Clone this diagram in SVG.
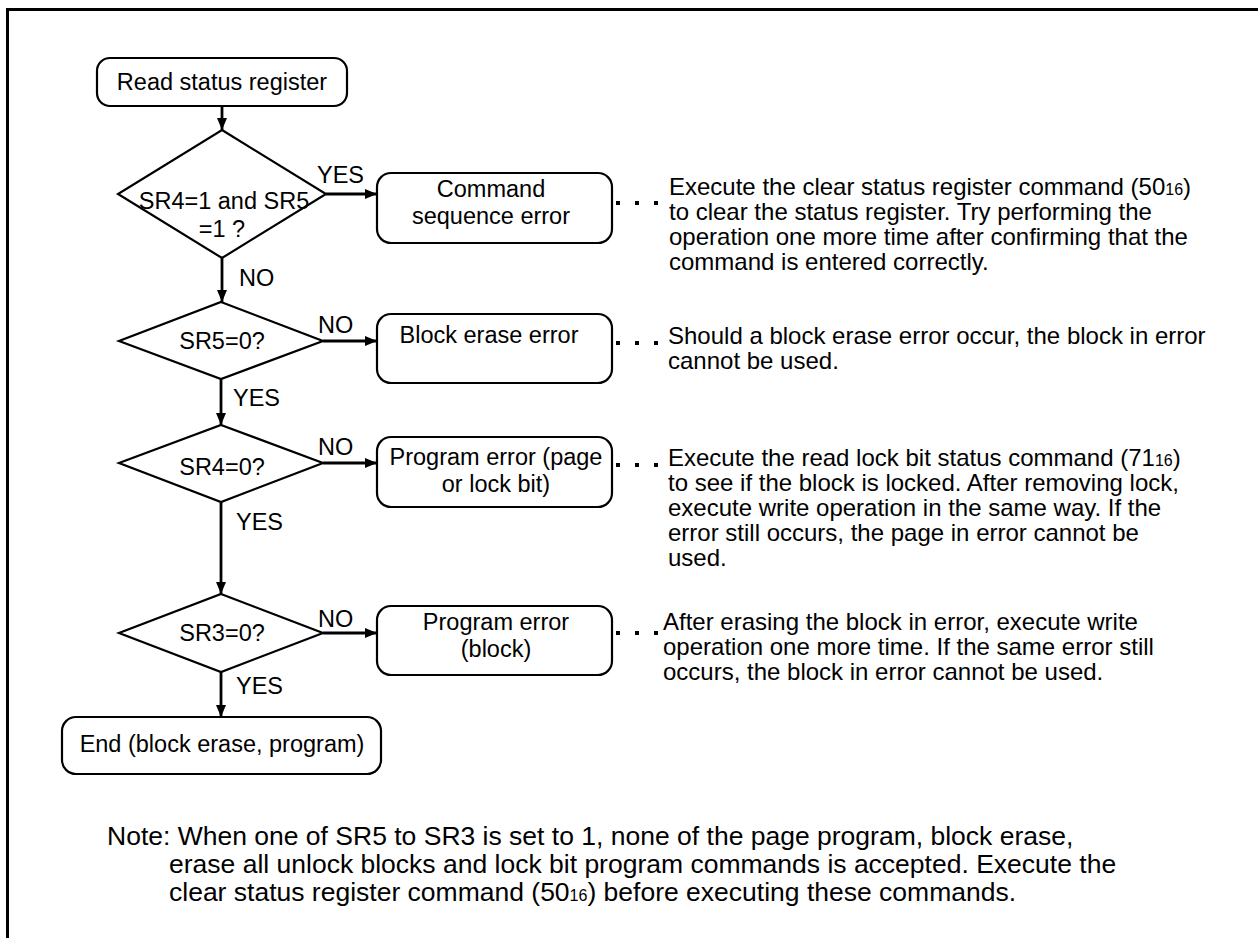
<svg xmlns="http://www.w3.org/2000/svg" width="1258" height="938" viewBox="0 0 1258 938">
<style>
text{font-family:"Liberation Sans",Arial,sans-serif;font-size:23.5px;fill:#000}
.c{text-anchor:middle}
.r{font-size:24px}
.n{font-size:26.5px}
.box{fill:#fff;stroke:#000;stroke-width:2.2}
.dia{fill:#fff;stroke:#000;stroke-width:2.2}
.ln{stroke:#000;stroke-width:2.8;fill:none}
.dots{stroke:#000;stroke-width:4;stroke-dasharray:4 15;fill:none}
.sub{font-size:16px}
</style>
<defs>
<marker id="ah" markerWidth="12" markerHeight="10" refX="12" refY="5" orient="auto" markerUnits="userSpaceOnUse">
<path d="M0,0 L12,5 L0,10 Z" fill="#000"/>
</marker>
</defs>
<rect width="1258" height="938" fill="#fff"/>
<g id="frame">
<path d="M7.5,938 V9.5 H1258" fill="none" stroke="#000" stroke-width="3"/>
</g>
<g id="connectors">
<line class="ln" x1="222" y1="106" x2="222" y2="130" marker-end="url(#ah)"/>
<line class="ln" x1="326" y1="194" x2="377" y2="194" marker-end="url(#ah)"/>
<line class="ln" x1="222" y1="258" x2="222" y2="302" marker-end="url(#ah)"/>
<line class="ln" x1="323" y1="341" x2="377" y2="341" marker-end="url(#ah)"/>
<line class="ln" x1="221" y1="379" x2="221" y2="425" marker-end="url(#ah)"/>
<line class="ln" x1="323" y1="463" x2="377" y2="463" marker-end="url(#ah)"/>
<line class="ln" x1="221" y1="502" x2="221" y2="594" marker-end="url(#ah)"/>
<line class="ln" x1="323" y1="633" x2="377" y2="633" marker-end="url(#ah)"/>
<line class="ln" x1="221" y1="672" x2="221" y2="717" marker-end="url(#ah)"/>
<text x="317" y="183">YES</text>
<text x="239" y="286">NO</text>
<text x="318" y="333">NO</text>
<text x="233" y="406">YES</text>
<text x="318" y="455">NO</text>
<text x="236" y="530">YES</text>
<text x="318" y="627">NO</text>
<text x="236" y="694">YES</text>
<line class="dots" x1="616" y1="203" x2="660" y2="203"/>
<line class="dots" x1="616" y1="343" x2="660" y2="343"/>
<line class="dots" x1="616" y1="465" x2="660" y2="465"/>
<line class="dots" x1="616" y1="633" x2="660" y2="633"/>
</g>
<g id="start">
<rect class="box" x="97" y="58" width="250" height="48" rx="13"/>
<text class="c" x="222" y="90">Read status register</text>
</g>
<g id="d1">
<polygon class="dia" points="222,130 326,194 222,258 118,194"/>
<text class="c" x="224" y="209">SR4=1 and SR5</text>
<text class="c" x="222" y="237">=1 ?</text>
</g>
<g id="b1">
<rect class="box" x="377" y="173" width="235" height="70" rx="14"/>
<text class="c" x="491" y="197">Command</text>
<text class="c" x="491" y="224">sequence error</text>
</g>
<g id="d2">
<polygon class="dia" points="221,302 323,341 221,379 119,341"/>
<text class="c" x="222" y="349">SR5=0?</text>
</g>
<g id="b2">
<rect class="box" x="377" y="314" width="235" height="69" rx="14"/>
<text class="c" x="489" y="343">Block erase error</text>
</g>
<g id="d3">
<polygon class="dia" points="221,425 323,463 221,502 119,463"/>
<text class="c" x="222" y="475">SR4=0?</text>
</g>
<g id="b3">
<rect class="box" x="377" y="437" width="235" height="70" rx="14"/>
<text class="c" x="496" y="465">Program error (page</text>
<text class="c" x="496" y="492">or lock bit)</text>
</g>
<g id="d4">
<polygon class="dia" points="221,594 323,633 221,672 119,633"/>
<text class="c" x="222" y="641">SR3=0?</text>
</g>
<g id="b4">
<rect class="box" x="377" y="606" width="235" height="69" rx="14"/>
<text class="c" x="496" y="630">Program error</text>
<text class="c" x="496" y="657">(block)</text>
</g>
<g id="end">
<rect class="box" x="62" y="717" width="319" height="57" rx="14"/>
<text class="c" x="222" y="752">End (block erase, program)</text>
</g>
<g id="notes">
<text class="r" x="669" y="195">Execute the clear status register command (50<tspan class="sub">16</tspan>)</text>
<text class="r" x="669" y="220">to clear the status register. Try performing the</text>
<text class="r" x="669" y="245">operation one more time after confirming that the</text>
<text class="r" x="669" y="270">command is entered correctly.</text>
<text class="r" x="668" y="344">Should a block erase error occur, the block in error</text>
<text class="r" x="668" y="369">cannot be used.</text>
<text class="r" x="668" y="466">Execute the read lock bit status command (71<tspan class="sub">16</tspan>)</text>
<text class="r" x="668" y="491">to see if the block is locked. After removing lock,</text>
<text class="r" x="668" y="516">execute write operation in the same way. If the</text>
<text class="r" x="668" y="541">error still occurs, the page in error cannot be</text>
<text class="r" x="668" y="566">used.</text>
<text class="r" x="663" y="630">After erasing the block in error, execute write</text>
<text class="r" x="663" y="655">operation one more time. If the same error still</text>
<text class="r" x="663" y="680">occurs, the block in error cannot be used.</text>
<text class="n" x="107" y="845">Note: When one of SR5 to SR3 is set to 1, none of the page program, block erase,</text>
<text class="n" x="169" y="873">erase all unlock blocks and lock bit program commands is accepted. Execute the</text>
<text class="n" x="169" y="901">clear status register command (50<tspan class="sub">16</tspan>) before executing these commands.</text>
</g>
</svg>
